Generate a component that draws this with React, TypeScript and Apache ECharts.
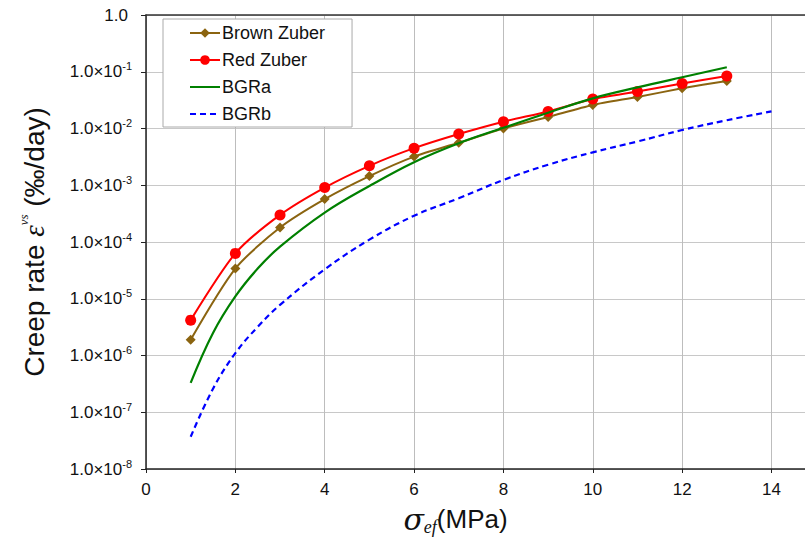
import React, { useEffect, useRef } from 'react';
import * as echarts from 'echarts';

const xZuber = [1, 2, 3, 4, 5, 6, 7, 8, 9, 10, 11, 12, 13];
const brownZuber = [1.9e-6, 3.4e-5, 1.8e-4, 5.7e-4, 1.45e-3, 3.2e-3, 5.6e-3, 1.0e-2, 1.6e-2, 2.6e-2, 3.6e-2, 5.1e-2, 6.9e-2];
const redZuber = [4.2e-6, 6.3e-5, 3.0e-4, 9.1e-4, 2.2e-3, 4.5e-3, 8.0e-3, 1.32e-2, 2.0e-2, 3.3e-2, 4.5e-2, 6.2e-2, 8.4e-2];
const xBGRa = [1, 1.5, 2, 2.5, 3, 4, 5, 6, 7, 8, 9, 10, 11, 12, 13];
const bgra = [3.3e-7, 2.5e-6, 1.1e-5, 3.4e-5, 8.3e-5, 3.3e-4, 9.7e-4, 2.55e-3, 5.5e-3, 1.03e-2, 1.9e-2, 3.4e-2, 5.3e-2, 8.0e-2, 1.2e-1];
const xBGRb = [1, 1.5, 2, 2.5, 3, 4, 5, 6, 7, 8, 9, 10, 11, 12, 13, 14];
const bgrb = [3.7e-8, 2.6e-7, 1.1e-6, 3.2e-6, 7.8e-6, 3.3e-5, 1.1e-4, 2.9e-4, 5.9e-4, 1.24e-3, 2.3e-3, 3.8e-3, 5.9e-3, 9.4e-3, 1.4e-2, 2.0e-2];

const seriesNames = ['Brown Zuber', 'Red Zuber', 'BGRa', 'BGRb'];
const xTicks = [0, 2, 4, 6, 8, 10, 12, 14];

const FONT = "'Liberation Sans', Arial, sans-serif";

const pairs = (xs: number[], ys: number[]) => xs.map((x, i) => [x, ys[i]]);

export default function App() {
  const ref = useRef<HTMLDivElement>(null);
  useEffect(() => {
    if (!ref.current) return;
    const chart = echarts.init(ref.current, undefined, { renderer: 'svg' });
    chart.setOption({
      animation: false,
      backgroundColor: '#fff',
      textStyle: { fontFamily: FONT },
      grid: { left: 146, top: 15, right: 0, bottom: 72, containLabel: false },
      legend: {
        data: [
          { name: seriesNames[0] },
          { name: seriesNames[1] },
          { name: seriesNames[2], itemStyle: { opacity: 0 } },
          { name: seriesNames[3], itemStyle: { opacity: 0 } },
        ],
        orient: 'vertical',
        left: 163,
        top: 19,
        padding: [5, 27, 4, 26],
        itemGap: 9,
        itemWidth: 30,
        itemHeight: 12,
        borderColor: '#aaa',
        borderWidth: 1,
        backgroundColor: '#fff',
        textStyle: { fontSize: 18, color: '#111', fontFamily: FONT, lineHeight: 18, padding: [0, 0, 0, -3] },
      },
      xAxis: [
        {
          type: 'value',
          min: 0,
          max: 14.75,
          interval: 2,
          position: 'bottom',
          name: '{g|σ}{sub|ef}{a|(MPa)}',
          nameLocation: 'middle',
          nameGap: 33,
          nameTextStyle: {
            padding: [0, 40, 0, 0],
            rich: {
              g: { fontFamily: "'DejaVu Serif', 'Liberation Serif', serif", fontStyle: 'italic', fontSize: 30, lineHeight: 34, color: '#111' },
              sub: { fontFamily: "'Liberation Serif', serif", fontStyle: 'italic', fontSize: 18, lineHeight: 15, verticalAlign: 'bottom', color: '#111' },
              a: { fontFamily: FONT, fontSize: 26, lineHeight: 34, color: '#111' },
            },
          },
          axisLine: { show: true, lineStyle: { color: '#222', width: 1.5 } },
          axisTick: { show: true, inside: false, length: 4, lineStyle: { color: '#222' } },
          axisLabel: {
            fontSize: 17,
            color: '#111',
            margin: 12,
            showMaxLabel: false,
            formatter: (v: number) => (xTicks.includes(v) ? String(v) : ''),
          },
          splitLine: { show: true, lineStyle: { color: '#bdbdbd', width: 1 } },
        },
        {
          type: 'value',
          min: 0,
          max: 14.75,
          position: 'top',
          axisLine: { show: true, lineStyle: { color: '#333', width: 1.5 } },
          axisTick: { show: false },
          axisLabel: { show: false },
          splitLine: { show: false },
        },
      ],
      yAxis: {
        type: 'log',
        logBase: 10,
        min: 1e-8,
        max: 1,
        name: '{a|Creep rate }{e|ε}{s|vs}{a| (‰/day)}',
        nameLocation: 'middle',
        nameRotate: 90,
        nameGap: 95,
        nameTextStyle: {
          rich: {
            a: { fontFamily: FONT, fontSize: 28, lineHeight: 34, color: '#111' },
            e: { fontFamily: "'Liberation Serif', serif", fontStyle: 'italic', fontSize: 29, lineHeight: 34, color: '#111' },
            s: { fontFamily: "'Liberation Serif', serif", fontStyle: 'italic', fontSize: 13, lineHeight: 13, verticalAlign: 'top', color: '#111' },
          },
        },
        axisLine: { show: true, lineStyle: { color: '#222', width: 1.5 } },
        axisTick: { show: true, inside: false, length: 5, lineStyle: { color: '#222' } },
        axisLabel: {
          margin: 14,
          color: '#111',
          formatter: (v: number) => {
            const e = Math.round(Math.log10(v));
            if (e === 0) return '{t|1.0}';
            return `{b|1.0×10}{s|${e}}`;
          },
          rich: {
            t: { fontFamily: FONT, fontSize: 17, lineHeight: 22, color: '#111', padding: [0, 4, 0, 0] },
            b: { fontFamily: FONT, fontSize: 17, lineHeight: 22, color: '#111' },
            s: { fontFamily: FONT, fontSize: 11, lineHeight: 11, verticalAlign: 'top', color: '#111' },
          },
        },
        splitLine: { show: true, lineStyle: { color: '#c8c8c8', width: 1 } },
      },
      series: [
        {
          name: 'Brown Zuber',
          type: 'line',
          data: pairs(xZuber, brownZuber),
          smooth: 0.25,
          symbol: 'diamond',
          symbolSize: 10,
          color: '#8B6410',
          lineStyle: { width: 2, color: '#8B6410' },
          itemStyle: { color: '#8B6410' },
          z: 3,
        },
        {
          name: 'Red Zuber',
          type: 'line',
          data: pairs(xZuber, redZuber),
          smooth: 0.25,
          symbol: 'circle',
          symbolSize: 11,
          color: '#FF0000',
          lineStyle: { width: 2, color: '#FF0000' },
          itemStyle: { color: '#FF0000' },
          z: 4,
        },
        {
          name: 'BGRa',
          type: 'line',
          data: pairs(xBGRa, bgra),
          smooth: 0.4,
          showSymbol: false,
          symbol: 'none',
          color: '#008000',
          lineStyle: { width: 2.2, color: '#008000' },
          z: 5,
        },
        {
          name: 'BGRb',
          type: 'line',
          data: pairs(xBGRb, bgrb),
          smooth: 0.4,
          showSymbol: false,
          symbol: 'none',
          color: '#0000FF',
          lineStyle: { width: 2.2, color: '#0000FF', type: [6, 4] },
          z: 2,
        },
      ],
    });
    return () => chart.dispose();
  }, []);
  return <div ref={ref} style={{ position: 'fixed', left: 0, top: 0, width: 805, height: 541 }} />;
}
